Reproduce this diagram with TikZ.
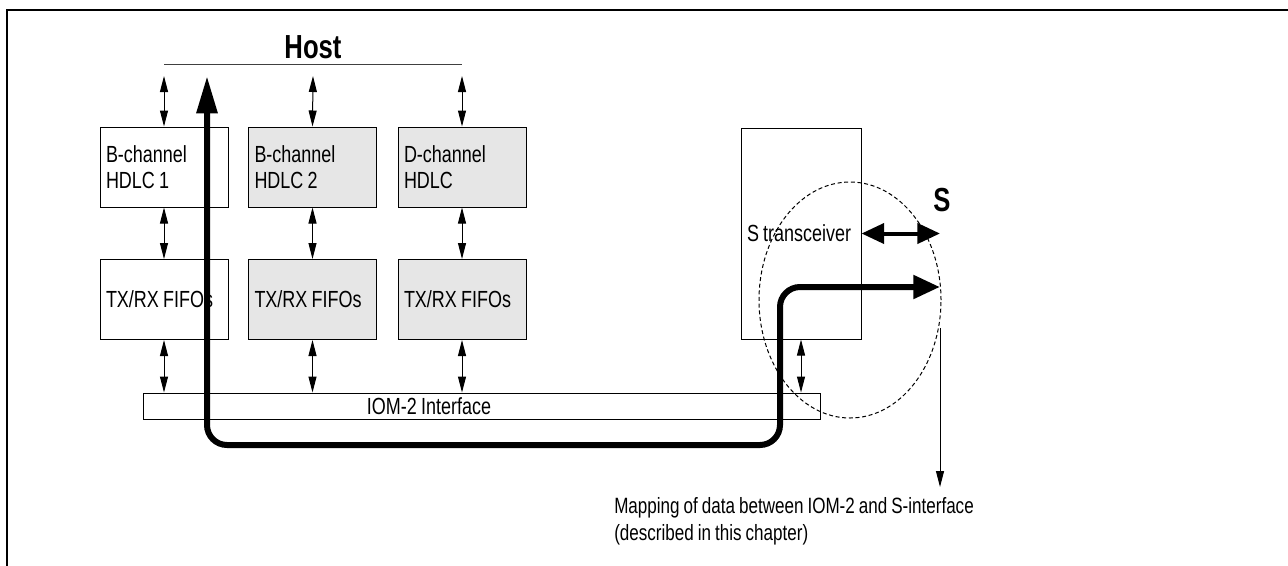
\documentclass[tikz,border=0pt]{standalone}
\usepackage{fontspec}
\setmainfont{Liberation Sans}[FakeStretch=0.77, WordSpace=0.85]
\usetikzlibrary{arrows.meta, shapes.geometric, positioning, calc}
\definecolor{boxgray}{HTML}{E6E6E6}

\begin{document}
\begin{tikzpicture}[
    x=0.75pt, y=-0.75pt,
    every node/.style={font=\fontsize{17.5}{19.5}\selectfont},
    block/.style={draw, line width=0.75pt, minimum width=96pt, minimum height=60pt,
      text width=87pt, align=left, inner xsep=4.5pt, inner ysep=0pt,
      execute at begin node={\spaceskip=0pt\xspaceskip=0pt}},
    shaded/.style={block, fill=boxgray},
    link/.style={{Triangle[length=12pt,width=6pt]}-{Triangle[length=12pt,width=6pt]}, line width=0.75pt},
    datapath/.style={line width=4.5pt, rounded corners=15pt,
      {Triangle[length=28pt,width=15pt]}-{Triangle[length=20pt,width=17pt]}},
    sline/.style={line width=3pt, {Triangle[length=17pt,width=15pt]}-{Triangle[length=17pt,width=15pt]}},
    bigtext/.style={font=\bfseries\fontsize{25}{28}\selectfont}
  ]
    \useasboundingbox (0,0) rectangle (1288,565);

    % Frame
    \draw[line width=1.5pt] (7,570) -- (7,10) -- (1295,10);

    % Host bus
    \node[bigtext] (host) at (313,47) {Host};
    \coordinate (hostL) at (164,64);
    \coordinate (hostR) at (462,64);
    \draw[line width=0.75pt, black!75] (hostL) -- (hostR);

    % HDLC controllers
    \node[block]  (hdlcA) at (164,167) {B-channel\\HDLC 1};
    \node[shaded] (hdlcB) at (312.5,167) {B-channel\\HDLC 2};
    \node[shaded] (hdlcD) at (462,167) {D-channel\\HDLC};

    % FIFOs
    \node[block]  (fifoA) at (164,299.5) {TX/RX FIFOs};
    \node[shaded] (fifoB) at (312.5,299.5) {TX/RX FIFOs};
    \node[shaded] (fifoD) at (462,299.5) {TX/RX FIFOs};

    % Transceiver and IOM-2 bar
    \node[block, minimum width=90pt, text width=81pt, minimum height=158.25pt] (strx) at (801,233.5) {S transceiver};
    \node[draw, line width=0.75pt, minimum width=507.75pt, minimum height=19.5pt, inner sep=0pt] (iom) at (481.5,406) {};
    \node (iomtext) at (429,406) {IOM-2 Interface};

    % Links between the blocks
    \foreach \c/\x in {A/164, B/313, D/462} {
      \coordinate (bus\c) at (\x,76);
      \draw[link] (bus\c) -- (hdlc\c.north);
      \draw[link] (hdlc\c.south) -- (fifo\c.north);
      \draw[link] (fifo\c.south) -- (fifo\c.south |- iom.north);
    }
    \draw[link] (strx.south) -- (strx.south |- iom.north);

    % Area of the mapping
    \node[draw, dashed, dash pattern=on 3pt off 2pt, line width=0.75pt, ellipse,
      minimum width=136.5pt, minimum height=177pt, inner sep=0pt] (zone) at (850,300) {};

    % Data path
    \coordinate (pathTop) at (207,76);
    \coordinate (pathEnd) at (940,287);
    \draw[datapath] (pathTop) -- (207,445) -- (780,445) -- (780,287) -- (pathEnd);

    % S interface
    \coordinate (sEnd) at (940,233.5);
    \draw[sline] (strx.east) -- (sEnd);
    \node[bigtext] (slabel) at (942,200) {S};

    % Note
    \coordinate (noteStart) at (940,328);
    \coordinate (noteTip) at (940,487);
    \draw[line width=0.75pt, -{Triangle[length=12pt,width=6pt]}] (noteStart) -- (noteTip);
    \node[anchor=west, align=left, inner sep=0pt, font=\fontsize{16.6}{20}\selectfont] (note) at (614,521)
      {Mapping of data between IOM-2 and S-interface\\(described in this chapter)};

\end{tikzpicture}
\end{document}
